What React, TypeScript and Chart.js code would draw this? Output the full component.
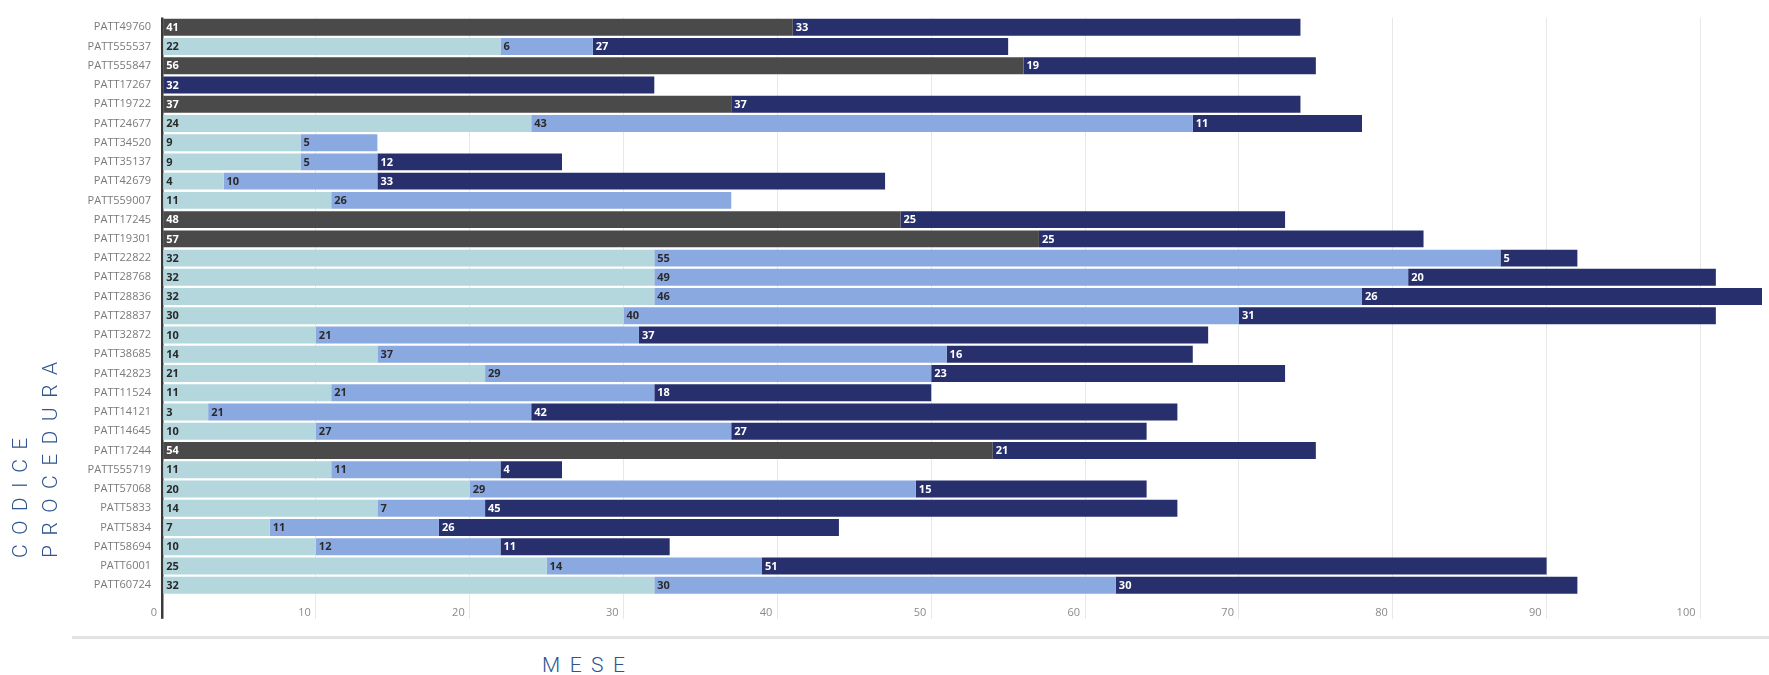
import React, { useEffect, useRef } from 'react';
import { Chart, registerables } from 'chart.js';

Chart.register(...registerables);

const categories = [
  'PATT49760', 'PATT555537', 'PATT555847', 'PATT17267', 'PATT19722', 'PATT24677',
  'PATT34520', 'PATT35137', 'PATT42679', 'PATT559007', 'PATT17245', 'PATT19301',
  'PATT22822', 'PATT28768', 'PATT28836', 'PATT28837', 'PATT32872', 'PATT38685',
  'PATT42823', 'PATT11524', 'PATT14121', 'PATT14645', 'PATT17244', 'PATT555719',
  'PATT57068', 'PATT5833', 'PATT5834', 'PATT58694', 'PATT6001', 'PATT60724',
];

const grayValues = [41, 0, 56, 0, 37, 0, 0, 0, 0, 0, 48, 57, 0, 0, 0, 0, 0, 0, 0, 0, 0, 0, 54, 0, 0, 0, 0, 0, 0, 0];
const tealValues = [0, 22, 0, 0, 0, 24, 9, 9, 4, 11, 0, 0, 32, 32, 32, 30, 10, 14, 21, 11, 3, 10, 0, 11, 20, 14, 7, 10, 25, 32];
const lightBlueValues = [0, 6, 0, 0, 0, 43, 5, 5, 10, 26, 0, 0, 55, 49, 46, 40, 21, 37, 29, 21, 21, 27, 0, 11, 29, 7, 11, 12, 14, 30];
const navyValues = [33, 27, 19, 32, 37, 11, 0, 12, 33, 0, 25, 25, 5, 20, 26, 31, 37, 16, 23, 18, 42, 27, 21, 4, 15, 45, 26, 11, 51, 30];

const seriesColors = ['#4A4A4A', '#B3D7DC', '#8AA9E1', '#27306C'];
const labelColors = ['#FFFFFF', '#2A2A2A', '#2A2A2A', '#FFFFFF'];

const xTitle = 'MESE';
const yTitleLines = ['CODICE', 'PROCEDURA'];

const CANVAS_W = 1769;
const CANVAS_H = 630;
const PLOT_TOP = 12.8;
const PLOT_BOTTOM = 594.8;
const PLOT_LEFT = 162;
const PLOT_RIGHT = 1762;

const tickFont = '"Open Sans", "Noto Sans", sans-serif';
const titleColor = '#2E5590';

const segmentLabels = {
  id: 'segmentLabels',
  afterDatasetsDraw(chart: any) {
    const ctx = chart.ctx;
    ctx.save();
    ctx.font = `bold 11px ${tickFont}`;
    ctx.textBaseline = 'middle';
    ctx.textAlign = 'left';
    chart.data.datasets.forEach((ds: any, di: number) => {
      const meta = chart.getDatasetMeta(di);
      meta.data.forEach((el: any, i: number) => {
        const v = ds.data[i];
        if (!v) return;
        const p = el.getProps(['x', 'y', 'base'], true);
        ctx.fillStyle = labelColors[di];
        ctx.fillText(String(v), Math.min(p.x, p.base) + 3, p.y + 0.5);
      });
    });
    ctx.restore();
  },
};

export default function App() {
  const canvasRef = useRef<HTMLCanvasElement | null>(null);

  useEffect(() => {
    if (!canvasRef.current) return;
    const seriesData = [grayValues, tealValues, lightBlueValues, navyValues];
    const chart = new Chart(canvasRef.current, {
      type: 'bar',
      data: {
        labels: categories,
        datasets: seriesData.map((d, i) => ({
          label: `Serie ${i + 1}`,
          data: d,
          backgroundColor: seriesColors[i],
          borderWidth: 0,
          barPercentage: 0.88,
          categoryPercentage: 1.0,
        })),
      },
      options: {
        indexAxis: 'y',
        responsive: false,
        animation: false,
        devicePixelRatio: 1,
        layout: { padding: { top: PLOT_TOP, right: CANVAS_W - PLOT_RIGHT, left: 0, bottom: 0 } },
        plugins: {
          legend: { display: false },
          tooltip: { enabled: false },
          title: { display: false },
        },
        scales: {
          x: {
            stacked: true,
            min: 0,
            max: 104,
            afterFit: (s: any) => { s.height = CANVAS_H - PLOT_BOTTOM; },
            grid: {
              color: (c: any) => (c.tick && c.tick.value === 0 ? '#3A3A3A' : '#E8E8E8'),
              lineWidth: (c: any) => (c.tick && c.tick.value === 0 ? 2.5 : 1),
              tickLength: 24,
              drawTicks: true,
            },
            border: { display: false },
            ticks: {
              stepSize: 10,
              includeBounds: false,
              align: 'end',
              labelOffset: -5,
              padding: -13,
              color: '#8A8A8A',
              font: { family: tickFont, size: 11 },
              maxRotation: 0,
              autoSkip: false,
            },
          },
          y: {
            stacked: true,
            afterFit: (s: any) => { s.width = PLOT_LEFT; },
            grid: { display: false, drawTicks: false },
            border: { display: false },
            ticks: {
              padding: 11,
              color: '#7A7A7A',
              font: { family: tickFont, size: 11 },
              autoSkip: false,
            },
          },
        },
      } as any,
      plugins: [segmentLabels],
    });
    return () => chart.destroy();
  }, []);

  const titleStyle: React.CSSProperties = {
    position: 'absolute',
    fontFamily: 'Roboto, "Open Sans", sans-serif',
    fontWeight: 300,
    fontSize: 21,
    letterSpacing: '9.5px',
    lineHeight: '24px',
    color: titleColor,
    whiteSpace: 'nowrap',
  };

  return (
    <div style={{ position: 'fixed', left: 0, top: 0, width: CANVAS_W, height: 675, background: '#fff', overflow: 'hidden' }}>
      <canvas ref={canvasRef} width={CANVAS_W} height={CANVAS_H} style={{ position: 'absolute', left: 0, top: 0, width: CANVAS_W, height: CANVAS_H }} />
      <div style={{ position: 'absolute', left: 72, top: 636, width: CANVAS_W - 72, height: 3, background: '#E3E3E3' }} />
      <div style={{ ...titleStyle, left: 542, top: 653 }}>{xTitle}</div>
      {yTitleLines.map((t, i) => (
        <div
          key={t}
          style={{
            ...titleStyle,
            left: (i === 0 ? 20 : 50) - 12,
            top: 558,
            transform: 'rotate(-90deg)',
            transformOrigin: '0 0',
          }}
        >
          {t}
        </div>
      ))}
    </div>
  );
}
